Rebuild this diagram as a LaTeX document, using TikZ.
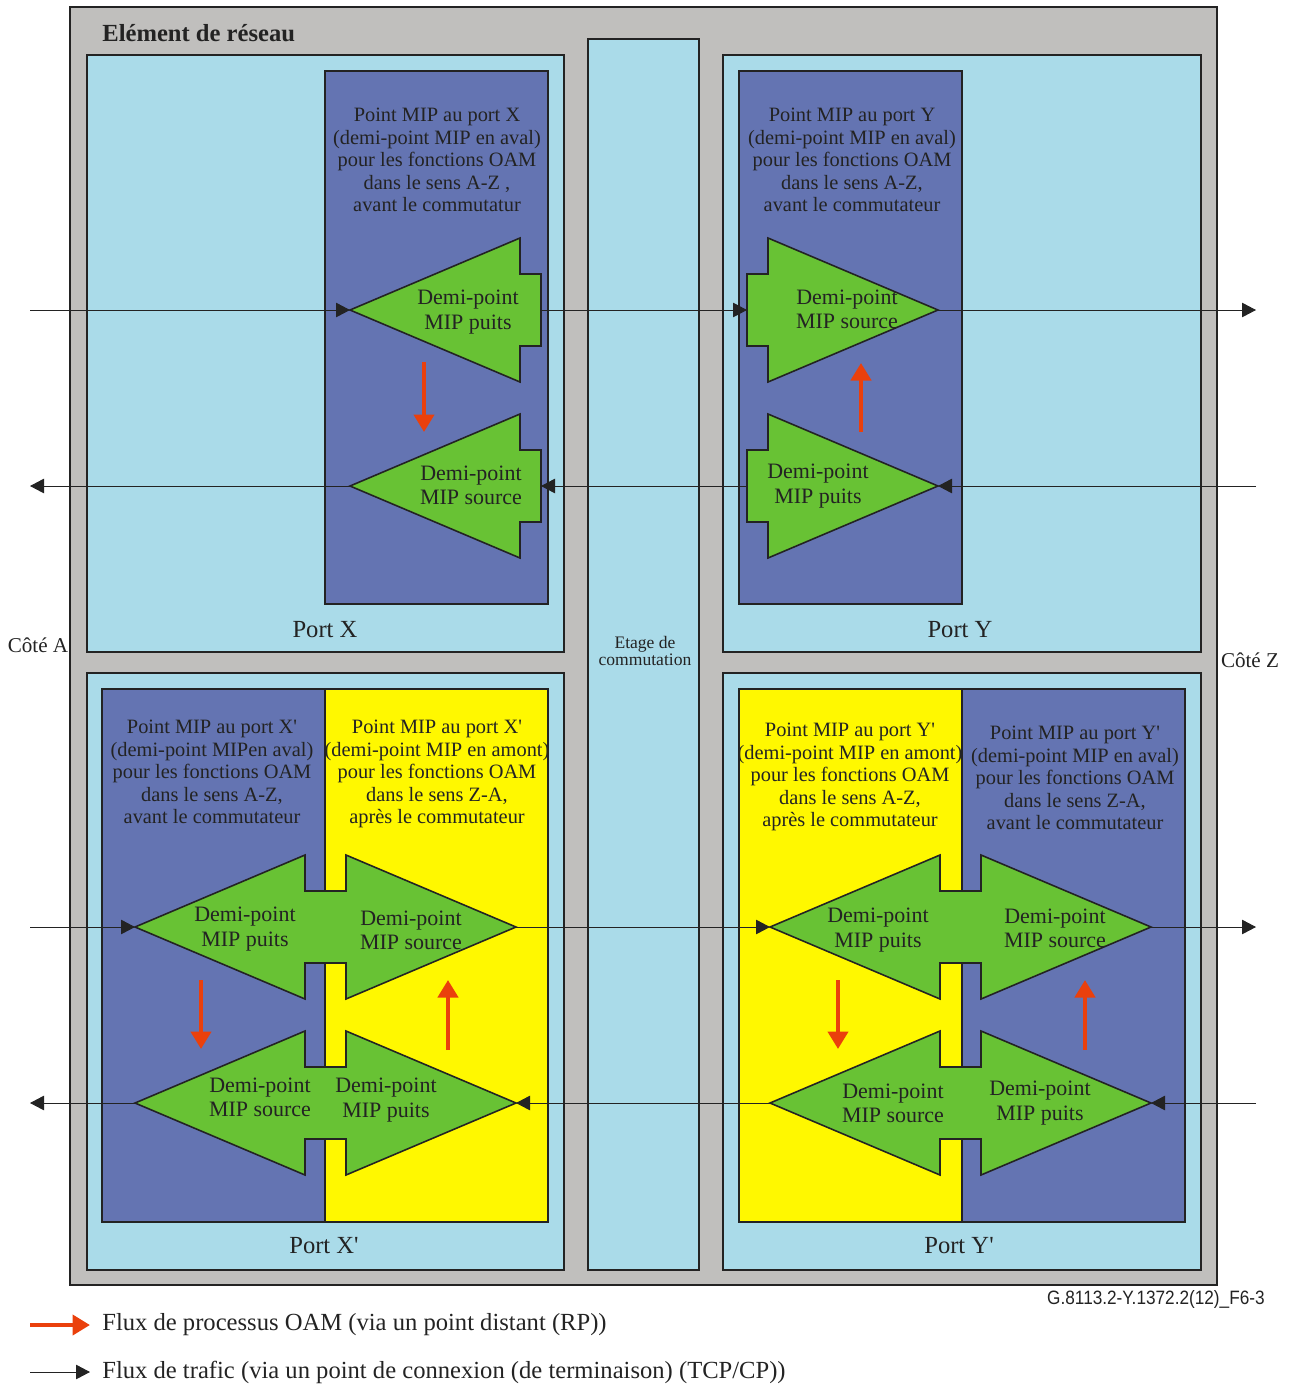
\documentclass[tikz,border=0pt]{standalone}
\usepackage{fontspec}
\setmainfont{Liberation Serif}
\newfontfamily\narrowsans[FakeStretch=0.89]{Liberation Sans}
\usetikzlibrary{arrows.meta}

\definecolor{elementgrey}{RGB}{192,191,189}
\definecolor{portblue}{RGB}{170,219,233}
\definecolor{mipblue}{RGB}{100,116,178}
\definecolor{mipyellow}{RGB}{255,248,0}
\definecolor{mipgreen}{RGB}{104,194,52}
\definecolor{oamred}{RGB}{234,64,12}
\definecolor{edge}{RGB}{35,35,35}

\tikzset{
	box/.style={draw=edge, line width=0.9pt},
	flow/.style={draw=edge, line width=0.5pt, -{Triangle[length=2.8mm,width=2.9mm]}},
	oam/.style={draw=oamred, line width=2.4pt, -{Triangle[length=3.5mm,width=4mm]}},
	mip/.style={align=center, font=\fontsize{12.5}{13.8}\selectfont},
	info/.style={align=center, font=\fontsize{11.6}{12.8}\selectfont},
	port/.style={font=\fontsize{14}{16}\selectfont},
	pics/halfmip/.style={
		code={
			\draw[box, fill=mipgreen] (0,0) -- (170,-72) -- (170,-36) -- (191,-36) -- (191,36) -- (170,36) -- (170,72) -- cycle;
			\coordinate (-tip) at (0,0);
			\coordinate (-back) at (191,0);
		}
	},
	pics/twinmip/.style={
		code={
			\draw[box, fill=mipgreen] (0,0) -- (170,-72) -- (170,-36) -- (211,-36) -- (211,-72) -- (381,0) -- (211,72) -- (211,36) -- (170,36) -- (170,72) -- cycle;
			\coordinate (-ltip) at (0,0);
			\coordinate (-rtip) at (381,0);
		}
	}
}

\begin{document}
\begin{tikzpicture}[x=0.2mm, y=-0.2mm, every node/.style={text=edge}]
	\useasboundingbox (0,0) rectangle (1290,1384);

	% --- network element ---
	\draw[box, fill=elementgrey] (70,7) rectangle (1217,1285);
	\node[anchor=west, inner sep=0pt, font=\fontsize{14}{16}\selectfont\bfseries] (title) at (102,33) {Elément de réseau};

	\draw[box, fill=portblue] (87,55) rectangle (564,652);
	\draw[box, fill=portblue] (723,55) rectangle (1201,652);
	\draw[box, fill=portblue] (87,673) rectangle (564,1270);
	\draw[box, fill=portblue] (723,673) rectangle (1201,1270);
	\draw[box, fill=portblue] (588,39) rectangle (699,1270);
	\node[align=center, font=\fontsize{10}{10}\selectfont] (stage) at (645,651) {Etage de\\commutation};

	% --- MIP boxes ---
	\draw[box, fill=mipblue] (325,71) rectangle (548,604);
	\draw[box, fill=mipblue] (739,71) rectangle (962,604);
	\draw[box, fill=mipblue] (102,689) rectangle (325,1222);
	\draw[box, fill=mipyellow] (325,689) rectangle (548,1222);
	\draw[box, fill=mipyellow] (739,689) rectangle (962,1222);
	\draw[box, fill=mipblue] (962,689) rectangle (1185,1222);

	\node[info] (infoX) at (437,160) {Point MIP au port X\\(demi-point MIP en aval)\\pour les fonctions OAM\\dans le sens A-Z ,\\avant le commutatur};
	\node[info] (infoY) at (852,160) {Point MIP au port Y\\(demi-point MIP en aval)\\pour les fonctions OAM\\dans le sens A-Z,\\avant le commutateur};
	\node[info] (infoXa) at (212,772) {Point MIP au port X\textquotesingle\\(demi-point MIPen aval)\\pour les fonctions OAM\\dans le sens A-Z,\\avant le commutateur};
	\node[info] (infoXb) at (437,774) {Point MIP au port X\textquotesingle\\(demi-point MIP en amont)\\pour les fonctions OAM\\dans le sens Z-A,\\après le commutateur};
	\node[info] (infoYb) at (850,777) {Point MIP au port Y\textquotesingle\\(demi-point MIP en amont)\\pour les fonctions OAM\\dans le sens A-Z,\\après le commutateur};
	\node[info] (infoYa) at (1075,778) {Point MIP au port Y\textquotesingle\\(demi-point MIP en aval)\\pour les fonctions OAM\\dans le sens Z-A,\\avant le commutateur};

	\node[port] (portX) at (325,630) {Port X};
	\node[port] (portY) at (960,630) {Port Y};
	\node[port] (portXp) at (324,1246) {Port X\textquotesingle};
	\node[port] (portYp) at (959,1246) {Port Y\textquotesingle};

	\node[font=\fontsize{12}{14}\selectfont] (sideA) at (38,645) {Côté A};
	\node[font=\fontsize{12}{14}\selectfont] (sideZ) at (1250,660) {Côté Z};

	% --- half points ---
	\pic (puitsX) at (350,310) {halfmip};
	\pic (sourceX) at (350,486) {halfmip};
	\pic[xscale=-1] (sourceY) at (938,310) {halfmip};
	\pic[xscale=-1] (puitsY) at (938,486) {halfmip};
	\pic (twinXup) at (135,927) {twinmip};
	\pic (twinXdown) at (135,1103) {twinmip};
	\pic (twinYup) at (770,927) {twinmip};
	\pic (twinYdown) at (770,1103) {twinmip};

	\node[mip] (lblPuitsX) at (468,312) {Demi-point\\MIP puits};
	\node[mip] (lblSourceX) at (471,485) {Demi-point\\MIP source};
	\node[mip] (lblSourceY) at (847,309) {Demi-point\\MIP source};
	\node[mip] (lblPuitsY) at (818,486) {Demi-point\\MIP puits};
	\node[mip] (lblXa) at (245,929) {Demi-point\\MIP puits};
	\node[mip] (lblXb) at (411,930) {Demi-point\\MIP source};
	\node[mip] (lblXc) at (260,1097) {Demi-point\\MIP source};
	\node[mip] (lblXd) at (386,1100) {Demi-point\\MIP puits};
	\node[mip] (lblYa) at (878,930) {Demi-point\\MIP puits};
	\node[mip] (lblYb) at (1055,928) {Demi-point\\MIP source};
	\node[mip] (lblYc) at (893,1103) {Demi-point\\MIP source};
	\node[mip] (lblYd) at (1040,1103) {Demi-point\\MIP puits};

	% --- traffic ---
	\coordinate (inA1) at (30,310);
	\coordinate (outZ1) at (1256,310);
	\coordinate (inZ2) at (1256,486);
	\coordinate (outA2) at (30,486);
	\coordinate (inA3) at (30,927);
	\coordinate (outZ3) at (1256,927);
	\coordinate (inZ4) at (1256,1103);
	\coordinate (outA4) at (30,1103);

	\draw[flow] (inA1) -- (puitsX-tip);
	\draw[flow] (puitsX-back) -- (sourceY-back);
	\draw[flow] (sourceY-tip) -- (outZ1);
	\draw[flow] (inZ2) -- (puitsY-tip);
	\draw[flow] (puitsY-back) -- (sourceX-back);
	\draw[flow] (sourceX-tip) -- (outA2);
	\draw[flow] (inA3) -- (twinXup-ltip);
	\draw[flow] (twinXup-rtip) -- (twinYup-ltip);
	\draw[flow] (twinYup-rtip) -- (outZ3);
	\draw[flow] (inZ4) -- (twinYdown-rtip);
	\draw[flow] (twinYdown-ltip) -- (twinXdown-rtip);
	\draw[flow] (twinXdown-ltip) -- (outA4);

	% --- OAM ---
	\coordinate (oamX1) at (424,362);
	\coordinate (oamX2) at (424,432);
	\coordinate (oamY1) at (861,432);
	\coordinate (oamY2) at (861,363);
	\coordinate (oamXa1) at (201,980);
	\coordinate (oamXa2) at (201,1049);
	\coordinate (oamXb1) at (448,1050);
	\coordinate (oamXb2) at (448,980);
	\coordinate (oamYa1) at (838,980);
	\coordinate (oamYa2) at (838,1049);
	\coordinate (oamYb1) at (1085,1050);
	\coordinate (oamYb2) at (1085,980);

	\draw[oam] (oamX1) -- (oamX2);
	\draw[oam] (oamY1) -- (oamY2);
	\draw[oam] (oamXa1) -- (oamXa2);
	\draw[oam] (oamXb1) -- (oamXb2);
	\draw[oam] (oamYa1) -- (oamYa2);
	\draw[oam] (oamYb1) -- (oamYb2);

	% --- legend ---
	\node[anchor=east, inner sep=0pt, font=\narrowsans\fontsize{11}{13}\selectfont] (figref) at (1265,1299) {G.8113.2-Y.1372.2(12)\_F6-3};

	\coordinate (keyOam1) at (30,1325);
	\coordinate (keyOam2) at (90,1325);
	\coordinate (keyFlow1) at (30,1372);
	\coordinate (keyFlow2) at (90,1372);
	\draw[oam] (keyOam1) -- (keyOam2);
	\draw[flow] (keyFlow1) -- (keyFlow2);
	\node[anchor=west, inner sep=0pt, font=\fontsize{14}{16}\selectfont] (keyOam) at (102,1325) {Flux de processus OAM (via un point distant (RP))};
	\node[anchor=west, inner sep=0pt, font=\fontsize{14}{16}\selectfont] (keyFlow) at (102,1372) {Flux de trafic (via un point de connexion (de terminaison) (TCP/CP))};
\end{tikzpicture}
\end{document}
